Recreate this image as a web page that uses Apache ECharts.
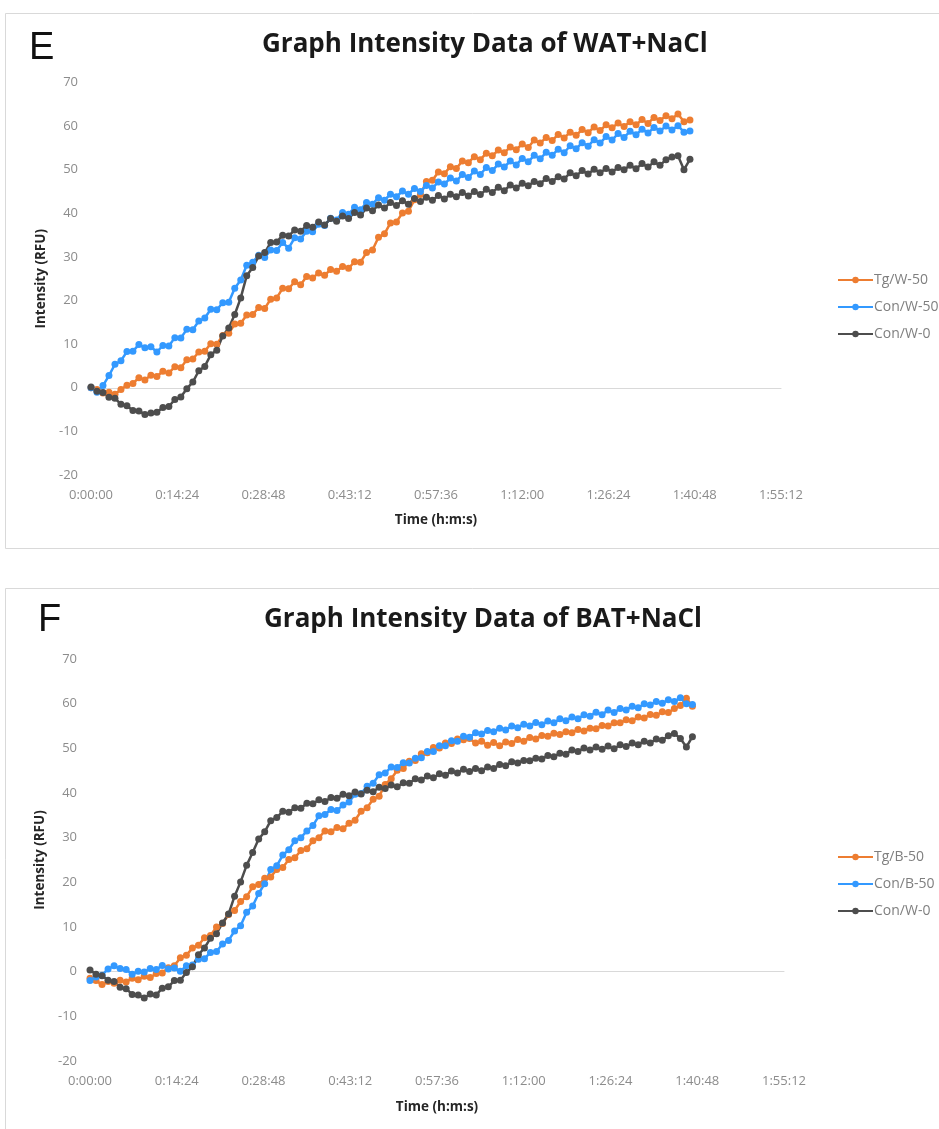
<!DOCTYPE html>
<html>
<head>
<meta charset="utf-8">
<script src="https://cdn.jsdelivr.net/npm/echarts@6/dist/echarts.min.js"></script>
<style>
  html, body { margin: 0; padding: 0; background: #fff; }
  #chart { width: 939px; height: 1129px; }
</style>
</head>
<body>
<div id="chart"></div>
<script>
// sampling: one reading every 60 s, 0 .. 6000 s
const sampleSeconds = 60;

// x-axis tick range (seconds): 0 .. 1:55:12 in steps of 0:14:24
const xMin = 0, xMax = 6912, xStep = 864;
const yMin = -20, yMax = 70, yStep = 10;

// Panel E: WAT + NaCl
const namesE = ['Tg/W-50', 'Con/W-50', 'Con/W-0'];
const tgW50 = [
  0, -0.4, -1.2, -1.0, -1.5, -0.4, 0.6, 1.0, 2.3, 1.8,
  2.9, 2.6, 3.8, 3.4, 4.8, 4.6, 6.4, 6.6, 8.2, 8.4,
  10.1, 10.0, 12.0, 12.5, 14.6, 14.8, 16.7, 16.8, 18.4, 18.2,
  20.3, 20.6, 22.8, 22.7, 24.3, 23.6, 25.5, 25.2, 26.3, 25.8,
  27.1, 26.7, 27.8, 27.4, 28.9, 28.8, 31.0, 31.6, 34.5, 35.3,
  37.8, 38.0, 40.1, 40.5, 43.1, 44.3, 47.3, 47.6, 49.5, 49.1,
  50.7, 50.3, 52.0, 51.6, 53.0, 52.3, 53.8, 53.2, 54.5, 53.9,
  55.2, 54.6, 55.9, 55.1, 56.8, 56.1, 57.4, 56.7, 58.1, 57.3,
  58.6, 57.9, 59.2, 58.5, 59.8, 59.0, 60.3, 59.6, 60.7, 59.9,
  61.0, 60.3, 61.5, 60.6, 62.0, 61.3, 62.4, 61.7, 62.8, 61.0,
  61.4
];
const conW50 = [
  0, -1.0, 0.5, 2.8, 5.4, 6.2, 8.3, 8.4, 9.9, 9.2,
  9.4, 8.2, 9.7, 9.6, 11.5, 11.4, 13.4, 13.3, 15.3, 16.0,
  18.0, 17.9, 19.5, 19.6, 22.8, 24.7, 28.1, 28.8, 30.4, 29.9,
  31.6, 31.5, 33.3, 32.0, 34.4, 34.1, 35.9, 35.8, 37.5, 37.2,
  38.9, 38.5, 40.2, 39.8, 41.4, 40.8, 42.5, 42.1, 43.6, 43.0,
  44.4, 43.8, 45.1, 44.4, 45.7, 45.0, 46.4, 45.8, 47.2, 46.7,
  48.1, 47.4, 48.9, 48.2, 49.7, 48.9, 50.5, 49.8, 51.3, 50.6,
  52.0, 51.1, 52.6, 51.8, 53.3, 52.5, 54.0, 53.3, 54.7, 53.9,
  55.5, 54.8, 56.2, 55.4, 56.9, 56.1, 57.6, 56.8, 58.3, 57.4,
  58.8, 58.0, 59.3, 58.4, 59.7, 58.9, 60.0, 59.1, 60.1, 58.6,
  58.9
];
const conW0E = [
  0.2, -0.8, -1.1, -2.2, -2.4, -3.8, -4.1, -5.2, -5.3, -6.1,
  -5.8, -5.6, -4.5, -4.3, -2.7, -2.1, -0.2, 1.3, 3.9, 4.9,
  7.6, 8.6, 11.9, 13.7, 16.8, 20.6, 25.7, 27.6, 30.2, 31.0,
  33.3, 33.4, 35.0, 34.8, 36.2, 35.9, 37.2, 36.8, 38.0, 37.3,
  38.8, 38.2, 39.4, 38.8, 40.2, 39.6, 41.2, 40.6, 41.9, 41.2,
  42.5, 41.8, 42.9, 42.1, 43.4, 42.7, 43.7, 43.0, 44.1, 43.3,
  44.4, 43.8, 44.8, 44.0, 45.0, 44.3, 45.5, 44.8, 46.0, 45.2,
  46.5, 45.8, 46.9, 46.3, 47.3, 46.8, 48.0, 47.3, 48.4, 47.9,
  49.3, 48.6, 49.8, 49.0, 50.1, 49.3, 50.3, 49.5, 50.5, 50.0,
  51.0, 50.2, 51.4, 50.6, 51.8, 51.0, 52.3, 52.9, 53.2, 50.0,
  52.4
];

// Panel F: BAT + NaCl
const namesF = ['Tg/B-50', 'Con/B-50', 'Con/W-0'];
const tgB50 = [
  -1.5, -2.0, -2.9, -2.2, -2.6, -1.9, -2.3, -1.5, -1.8, -1.0,
  -1.3, -0.4, -0.3, 0.9, 1.3, 3.1, 3.7, 5.3, 5.9, 7.6,
  8.1, 10.0, 10.8, 12.8, 13.7, 15.7, 16.8, 19.0, 19.5, 20.9,
  21.2, 22.9, 23.3, 25.1, 25.5, 27.1, 27.5, 29.3, 30.0, 31.5,
  31.3, 32.3, 32.0, 33.2, 33.9, 35.9, 36.7, 38.6, 39.3, 41.9,
  43.2, 45.1, 45.5, 47.1, 47.3, 48.8, 49.0, 50.2, 50.1, 51.2,
  51.1, 52.1, 51.9, 52.2, 51.2, 51.6, 50.7, 51.3, 50.6, 51.4,
  51.1, 52.0, 51.6, 52.4, 52.1, 52.9, 52.7, 53.4, 53.1, 53.7,
  53.5, 54.2, 53.9, 54.5, 54.4, 55.1, 55.0, 55.7, 55.7, 56.4,
  56.2, 57.0, 56.8, 57.6, 57.4, 58.2, 58.0, 58.9, 59.6, 61.2,
  59.4
];
const conB50 = [
  -2.0, -1.2, -0.8, 0.6, 1.3, 0.7, 0.5, -0.6, 0.1, -0.1,
  0.7, 0.5, 1.4, 0.6, 0.8, 0.1, 1.3, 1.5, 2.8, 2.9,
  4.3, 4.5, 6.2, 7.0, 9.1, 10.3, 13.3, 14.7, 17.5, 19.7,
  22.9, 23.7, 26.1, 27.3, 29.3, 30.0, 31.5, 32.7, 34.9, 35.2,
  36.3, 36.1, 37.3, 38.0, 39.7, 39.9, 41.5, 42.2, 44.1, 44.5,
  45.8, 45.7, 46.8, 46.7, 47.8, 47.9, 49.3, 49.3, 50.6, 50.6,
  51.7, 51.6, 52.7, 52.5, 53.5, 53.2, 54.0, 53.7, 54.5, 54.1,
  55.0, 54.6, 55.4, 55.0, 55.8, 55.3, 56.1, 55.7, 56.6, 56.2,
  57.0, 56.6, 57.5, 57.2, 58.1, 57.5, 58.6, 58.0, 58.9, 58.6,
  59.4, 59.1, 60.0, 59.7, 60.5, 60.1, 60.9, 60.5, 61.3, 60.0,
  59.8
];
const conW0F = [
  0.4, -0.6, -0.9, -1.9, -2.2, -3.5, -3.8, -5.1, -5.2, -5.9,
  -5.0, -5.2, -3.7, -3.4, -2.0, -1.9, -0.2, 1.1, 3.8, 5.3,
  7.5, 8.5, 10.9, 12.9, 16.9, 20.1, 23.8, 26.7, 29.7, 31.3,
  33.8, 34.5, 35.9, 35.7, 36.7, 36.6, 37.7, 37.6, 38.5, 38.1,
  39.0, 38.8, 39.7, 39.4, 40.2, 39.8, 40.6, 40.3, 41.3, 41.0,
  41.8, 41.4, 42.3, 42.2, 43.2, 42.9, 43.8, 43.4, 44.3, 44.0,
  44.9, 44.5, 45.3, 44.8, 45.5, 45.0, 45.8, 45.5, 46.4, 46.1,
  47.0, 46.7, 47.3, 47.2, 47.8, 47.6, 48.4, 48.1, 48.9, 48.7,
  49.6, 49.3, 50.1, 49.6, 50.3, 49.8, 50.5, 49.9, 50.8, 50.4,
  51.2, 50.8, 51.6, 51.2, 52.1, 51.8, 52.8, 53.3, 52.2, 50.3,
  52.6
];

const colors = ['#ED7D31', '#3399FF', '#4D4D4D'];
const tickColor = '#8c8c8c';
const font = 'Open Sans';

function hms(sec) {
  const h = Math.floor(sec / 3600);
  const m = Math.floor((sec % 3600) / 60);
  const s = Math.round(sec % 60);
  return h + ':' + String(m).padStart(2, '0') + ':' + String(s).padStart(2, '0');
}
function pairs(values) {
  return values.map((v, i) => [i * sampleSeconds, v]);
}

function labelAxis(gridIndex, nameGap) {
  return {
    gridIndex, type: 'value', min: xMin, max: xMax, interval: xStep, position: 'bottom',
    axisLine: { show: false, onZero: false }, axisTick: { show: false }, splitLine: { show: false },
    axisLabel: { color: tickColor, fontSize: 13, fontFamily: font, margin: 14, formatter: hms, showMaxLabel: true },
    name: 'Time (h:m:s)', nameLocation: 'middle', nameGap,
    nameTextStyle: { fontSize: 13.5, fontWeight: 'bold', color: '#262626', fontFamily: font }
  };
}
function zeroAxis(gridIndex, yIndex) {
  return {
    gridIndex, type: 'value', min: xMin, max: xMax, interval: xStep, position: 'top',
    axisLine: { show: true, onZero: true, onZeroAxisIndex: yIndex, lineStyle: { color: '#d9d9d9', width: 1 } },
    axisTick: { show: false }, axisLabel: { show: false }, splitLine: { show: false }
  };
}
function yAxis(gridIndex) {
  return {
    gridIndex, type: 'value', min: yMin, max: yMax, interval: yStep,
    axisLine: { show: false, onZero: false }, axisTick: { show: false }, splitLine: { show: false },
    axisLabel: { color: tickColor, fontSize: 13, fontFamily: font, margin: 13 },
    name: 'Intensity (RFU)', nameLocation: 'middle', nameGap: 43, nameRotate: 90,
    nameTextStyle: { fontSize: 13.5, fontWeight: 'bold', color: '#262626', fontFamily: font }
  };
}
function lineSeries(name, values, color, xAxisIndex, yAxisIndex) {
  return {
    name, type: 'line', xAxisIndex, yAxisIndex, data: pairs(values),
    symbol: 'circle', symbolSize: 7, showAllSymbol: true,
    itemStyle: { color }, lineStyle: { color, width: 2.5 },
    emphasis: { disabled: true }, animation: false
  };
}

const chart = echarts.init(document.getElementById('chart'), null, { renderer: 'canvas' });
chart.setOption({
  backgroundColor: '#ffffff',
  animation: false,
  graphic: [
    { type: 'rect', shape: { x: 5.5, y: 13.5, width: 1000, height: 535 }, style: { fill: 'none', stroke: '#d9d9d9', lineWidth: 1 }, z: -10 },
    { type: 'rect', shape: { x: 5.5, y: 588.5, width: 1000, height: 600 }, style: { fill: 'none', stroke: '#d9d9d9', lineWidth: 1 }, z: -10 }
  ],
  title: [
    { text: 'E', left: 24, top: 25, textStyle: { fontSize: 38, fontWeight: 'normal', color: '#111', fontFamily: 'Liberation Sans' } },
    { text: 'Graph Intensity Data of WAT+NaCl', left: 257, top: 27, textStyle: { fontSize: 26, fontWeight: 'bold', color: '#1a1a1a', fontFamily: font } },
    { text: 'F', left: 33, top: 597, textStyle: { fontSize: 38, fontWeight: 'normal', color: '#111', fontFamily: 'Liberation Sans' } },
    { text: 'Graph Intensity Data of BAT+NaCl', left: 259, top: 602, textStyle: { fontSize: 26, fontWeight: 'bold', color: '#1a1a1a', fontFamily: font } }
  ],
  legend: [
    { data: namesE, orient: 'vertical', left: 832, top: 268, itemWidth: 35, itemHeight: 8, itemGap: 13,
      textStyle: { color: '#7f7f7f', fontSize: 14, fontFamily: font, padding: [0, 0, 0, -4] } },
    { data: namesF, orient: 'vertical', left: 832, top: 845, itemWidth: 35, itemHeight: 8, itemGap: 13,
      textStyle: { color: '#7f7f7f', fontSize: 14, fontFamily: font, padding: [0, 0, 0, -4] } }
  ],
  grid: [
    { left: 91, top: 82.5, width: 690, height: 392.5 },
    { left: 90, top: 659, width: 694, height: 402 }
  ],
  xAxis: [labelAxis(0, 38), zeroAxis(0, 0), labelAxis(1, 39), zeroAxis(1, 1)],
  yAxis: [yAxis(0), yAxis(1)],
  series: [
    lineSeries(namesE[0], tgW50, colors[0], 0, 0),
    lineSeries(namesE[1], conW50, colors[1], 0, 0),
    lineSeries(namesE[2], conW0E, colors[2], 0, 0),
    lineSeries(namesF[0], tgB50, colors[0], 2, 1),
    lineSeries(namesF[1], conB50, colors[1], 2, 1),
    lineSeries(namesF[2], conW0F, colors[2], 2, 1)
  ]
});
</script>
</body>
</html>
